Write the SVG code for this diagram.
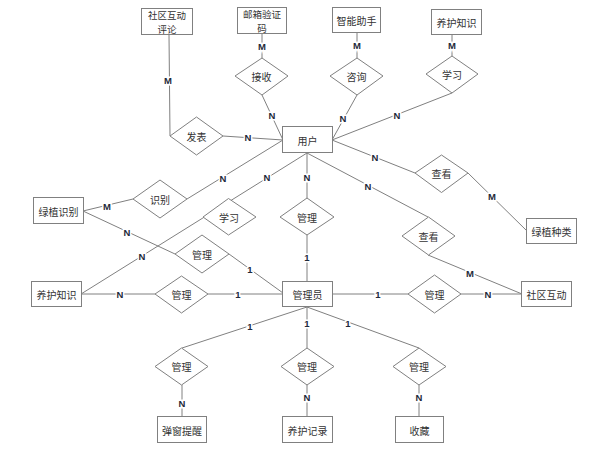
<svg xmlns="http://www.w3.org/2000/svg" width="605" height="453" viewBox="0 0 605 453">
<style>
.ent{fill:#fff;stroke:#808080;stroke-width:1}
.rel{fill:#fff;stroke:#808080;stroke-width:1}
.t{font-family:"Noto Sans CJK SC","Liberation Sans",sans-serif;font-size:10px;fill:#333;text-anchor:middle;dominant-baseline:central}
.t2{font-size:9.5px}
.ln{stroke:#808080;stroke-width:1;fill:none}
.c{font-family:"Liberation Sans",Arial,sans-serif;font-size:9.5px;font-weight:bold;fill:#1e2a3a;text-anchor:middle;dominant-baseline:central;stroke:#fff;stroke-width:3;paint-order:stroke}
</style>
<rect width="605" height="453" fill="#fff"/>
<g id="connectors">
<line class="ln" x1="169" y1="35" x2="170" y2="136"/>
<line class="ln" x1="223" y1="136" x2="283" y2="140"/>
<line class="ln" x1="262" y1="34" x2="262" y2="58"/>
<line class="ln" x1="262" y1="95" x2="283" y2="140"/>
<line class="ln" x1="357" y1="33" x2="357" y2="58"/>
<line class="ln" x1="357" y1="95" x2="332" y2="140"/>
<line class="ln" x1="452" y1="35" x2="452" y2="56"/>
<line class="ln" x1="452" y1="93" x2="332" y2="140"/>
<line class="ln" x1="83" y1="211" x2="133" y2="199"/>
<line class="ln" x1="187" y1="199" x2="283" y2="140"/>
<line class="ln" x1="81" y1="294" x2="307" y2="153"/>
<line class="ln" x1="307" y1="153" x2="307" y2="198"/>
<line class="ln" x1="307" y1="235" x2="307" y2="281"/>
<line class="ln" x1="307" y1="153" x2="428" y2="217"/>
<line class="ln" x1="332" y1="140" x2="415" y2="173"/>
<line class="ln" x1="468" y1="173" x2="527" y2="231"/>
<line class="ln" x1="428" y1="255" x2="522" y2="294"/>
<line class="ln" x1="83" y1="211" x2="175" y2="254"/>
<line class="ln" x1="229" y1="254" x2="283" y2="293"/>
<line class="ln" x1="81" y1="294" x2="155" y2="294"/>
<line class="ln" x1="208" y1="294" x2="283" y2="294"/>
<line class="ln" x1="333" y1="294" x2="408" y2="294"/>
<line class="ln" x1="461" y1="294" x2="522" y2="294"/>
<line class="ln" x1="307" y1="307" x2="182" y2="348"/>
<line class="ln" x1="307" y1="307" x2="307" y2="348"/>
<line class="ln" x1="307" y1="307" x2="419" y2="348"/>
<line class="ln" x1="182" y1="385" x2="182" y2="417"/>
<line class="ln" x1="307" y1="385" x2="307" y2="417"/>
<line class="ln" x1="419" y1="385" x2="419" y2="417"/>
<text class="c" x="168" y="80">M</text>
<text class="c" x="248" y="137">N</text>
<text class="c" x="262" y="46">M</text>
<text class="c" x="272" y="115">N</text>
<text class="c" x="357" y="45">M</text>
<text class="c" x="343" y="118">N</text>
<text class="c" x="452" y="45">M</text>
<text class="c" x="397" y="115">N</text>
<text class="c" x="107" y="206">M</text>
<text class="c" x="223" y="178">N</text>
<text class="c" x="142" y="256">N</text>
<text class="c" x="267" y="177">N</text>
<text class="c" x="307" y="177">N</text>
<text class="c" x="307" y="257">1</text>
<text class="c" x="368" y="186">N</text>
<text class="c" x="375" y="157">N</text>
<text class="c" x="492" y="196">M</text>
<text class="c" x="470" y="273">M</text>
<text class="c" x="127" y="232">N</text>
<text class="c" x="250" y="269">1</text>
<text class="c" x="120" y="294">N</text>
<text class="c" x="238" y="294">1</text>
<text class="c" x="378" y="294">1</text>
<text class="c" x="488" y="294">N</text>
<text class="c" x="250" y="326">1</text>
<text class="c" x="307" y="323">1</text>
<text class="c" x="348" y="323">1</text>
<text class="c" x="182" y="403">N</text>
<text class="c" x="307" y="397">N</text>
<text class="c" x="419" y="397">N</text>
</g>
<g id="e-sqhdpl"><rect class="ent" x="141.5" y="8.5" width="51" height="26"/><text class="t t2" x="167" y="14.5"><tspan x="167" y="14.5">社区互动</tspan><tspan x="167" y="28.5">评论</tspan></text></g>
<g id="e-yxyzm"><rect class="ent" x="237.5" y="7.5" width="49" height="26"/><text class="t t2" x="262" y="13.5"><tspan x="262" y="13.5">邮箱验证</tspan><tspan x="262" y="27.5">码</tspan></text></g>
<g id="e-znzs"><rect class="ent" x="332.5" y="7.5" width="48" height="25"/><text class="t" x="356.5" y="20">智能助手</text></g>
<g id="e-yhzs1"><rect class="ent" x="431.5" y="9.5" width="50" height="25"/><text class="t" x="456.5" y="22">养护知识</text></g>
<g id="r-fb"><polygon class="rel" points="170,136 196.5,117 223,136 196.5,155"/><text class="t" x="196.5" y="136">发表</text></g>
<g id="r-js"><polygon class="rel" points="235,76 262,58 288,76 262,95"/><text class="t" x="261.5" y="76">接收</text></g>
<g id="r-zx"><polygon class="rel" points="330,76 357,58 383,76 357,95"/><text class="t" x="356.5" y="76">咨询</text></g>
<g id="r-xx1"><polygon class="rel" points="426,74 452,56 478,74 452,93"/><text class="t" x="452" y="74">学习</text></g>
<g id="e-yh"><rect class="ent" x="282.5" y="126.5" width="50" height="26"/><text class="t" x="307.5" y="140">用户</text></g>
<g id="r-sb"><polygon class="rel" points="133,199 160,180 187,199 160,218"/><text class="t" x="160" y="199">识别</text></g>
<g id="e-lzsb"><rect class="ent" x="33.5" y="197.5" width="50" height="26"/><text class="t" x="58.5" y="211">绿植识别</text></g>
<g id="r-xx2"><polygon class="rel" points="203,217 228.5,198.5 256,217 228.5,235"/><text class="t" x="229" y="217">学习</text></g>
<g id="r-gl1"><polygon class="rel" points="280,217 307,198 334,217 307,235"/><text class="t" x="307" y="217">管理</text></g>
<g id="r-ck1"><polygon class="rel" points="415,173 441.5,155 468,173 441.5,192.5"/><text class="t" x="441.5" y="173">查看</text></g>
<g id="e-lzzl"><rect class="ent" x="526.5" y="218.5" width="50" height="25"/><text class="t" x="551.5" y="231">绿植种类</text></g>
<g id="r-ck2"><polygon class="rel" points="402,236 428.5,217 455,236 428.5,255"/><text class="t" x="428.5" y="236">查看</text></g>
<g id="r-gl2"><polygon class="rel" points="175,254 202,235 229,254 202,273"/><text class="t" x="202" y="254">管理</text></g>
<g id="e-yhzs2"><rect class="ent" x="31.5" y="281.5" width="50" height="25"/><text class="t" x="56.5" y="294">养护知识</text></g>
<g id="r-gl3"><polygon class="rel" points="155,294 181.5,276 208,294 181.5,313"/><text class="t" x="181.5" y="294">管理</text></g>
<g id="e-gly"><rect class="ent" x="282.5" y="281.5" width="50" height="25"/><text class="t" x="307.5" y="294">管理员</text></g>
<g id="r-gl4"><polygon class="rel" points="408,294 434.5,275 461,294 434.5,313"/><text class="t" x="434.5" y="294">管理</text></g>
<g id="e-sqhd"><rect class="ent" x="521.5" y="281.5" width="50" height="25"/><text class="t" x="546.5" y="294">社区互动</text></g>
<g id="r-gl5"><polygon class="rel" points="155,366.5 181.5,348 208,366.5 181.5,385"/><text class="t" x="181.5" y="366.5">管理</text></g>
<g id="r-gl6"><polygon class="rel" points="281,366.5 307,348 334,366.5 307,385"/><text class="t" x="307" y="366.5">管理</text></g>
<g id="r-gl7"><polygon class="rel" points="393,366.5 419,348 446,366.5 419,385"/><text class="t" x="419" y="366.5">管理</text></g>
<g id="e-tctx"><rect class="ent" x="157.5" y="416.5" width="49" height="26"/><text class="t" x="182" y="430">弹窗提醒</text></g>
<g id="e-yhjl"><rect class="ent" x="282.5" y="416.5" width="50" height="26"/><text class="t" x="307.5" y="430">养护记录</text></g>
<g id="e-sc"><rect class="ent" x="395.5" y="416.5" width="48" height="26"/><text class="t" x="419.5" y="430">收藏</text></g>
</svg>
